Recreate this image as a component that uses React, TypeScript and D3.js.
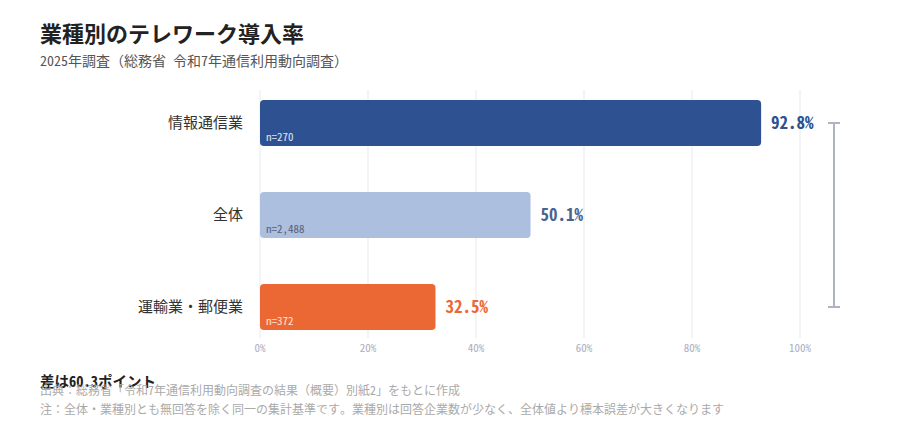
import React from 'react';
import * as d3 from 'd3';

const categories = ['情報通信業', '全体', '運輸業・郵便業'];
const rates = [92.8, 50.1, 32.5];
const sampleLabels = ['n=270', 'n=2,488', 'n=372'];
const barColors = ['#2d5191', '#adbfdf', '#eb6834'];
const valueColors = ['#2d5191', '#4b6391', '#eb6834'];
const nColors = ['#dfe6f2', '#55607a', '#fde3d6'];
const ticks = [0, 20, 40, 60, 80, 100];

const FONT = '"Noto Sans Mono CJK JP", "Noto Sans Mono CJK SC", "Noto Sans CJK JP", sans-serif';

const App: React.FC = () => {
  const width = 900;
  const height = 430;

  const x = d3.scaleLinear().domain([0, 100]).range([260, 800]);
  const y = d3.scaleBand<string>()
    .domain(categories)
    .range([77, 353])
    .paddingInner(0.5)
    .paddingOuter(0.25);

  const bw = y.bandwidth();
  const yTop = y(categories[0])! + bw / 2;
  const yBot = y(categories[categories.length - 1])! + bw / 2;
  const diff = (rates[0] - rates[2]).toFixed(1);

  return (
    <svg lang="ja" width={width} height={height} style={{ position: 'absolute', left: 0, top: 0, fontFamily: FONT }}>
      <rect width={width} height={height} fill="#fff" />
      <text x={40} y={42} fontSize={22} fontWeight={700} fill="#222">業種別のテレワーク導入率</text>
      <text x={40} y={66} fontSize={14} fill="#555">2025年調査（総務省 令和7年通信利用動向調査）</text>

      {/* grid */}
      {ticks.map(t => (
        <g key={t}>
          <line x1={x(t)} x2={x(t)} y1={90} y2={338} stroke="#eef0f5" strokeWidth={1.5} />
          <text x={x(t)} y={352} textAnchor="middle" fontSize={11} fill="#a9aec0">{t}%</text>
        </g>
      ))}

      {/* bars */}
      {categories.map((c, i) => {
        const by = y(c)!;
        return (
          <g key={c}>
            <text x={243} y={by + bw / 2} dy="0.35em" textAnchor="end" fontSize={15} fill="#333">{c}</text>
            <rect x={x(0)} y={by} width={x(rates[i]) - x(0)} height={bw} rx={4} fill={barColors[i]} />
            <text x={x(0) + 6} y={by + bw - 9} dy="0.35em" fontSize={11} fill={nColors[i]}>{sampleLabels[i]}</text>
            <text x={x(rates[i]) + 10} y={by + bw / 2} dy="0.35em" fontSize={17} fontWeight={700} fill={valueColors[i]}>
              {rates[i].toFixed(1)}%
            </text>
          </g>
        );
      })}

      {/* bracket */}
      <g stroke="#b0b4be" strokeWidth={2} fill="none">
        <line x1={834} x2={834} y1={yTop} y2={yBot} />
        <line x1={828} x2={840} y1={yTop} y2={yTop} />
        <line x1={828} x2={840} y1={yBot} y2={yBot} />
      </g>

      <text x={40} y={387} fontSize={14.5} fontWeight={700} fill="#222">差は{diff}ポイント</text>
      <text x={40} y={395} fontSize={12} fill="#aaa">出典：総務省「令和7年通信利用動向調査の結果（概要）別紙2」をもとに作成</text>
      <text x={40} y={414} fontSize={12} fill="#aaa">注：全体・業種別とも無回答を除く同一の集計基準です。業種別は回答企業数が少なく、全体値より標本誤差が大きくなります</text>
    </svg>
  );
};

export default App;
